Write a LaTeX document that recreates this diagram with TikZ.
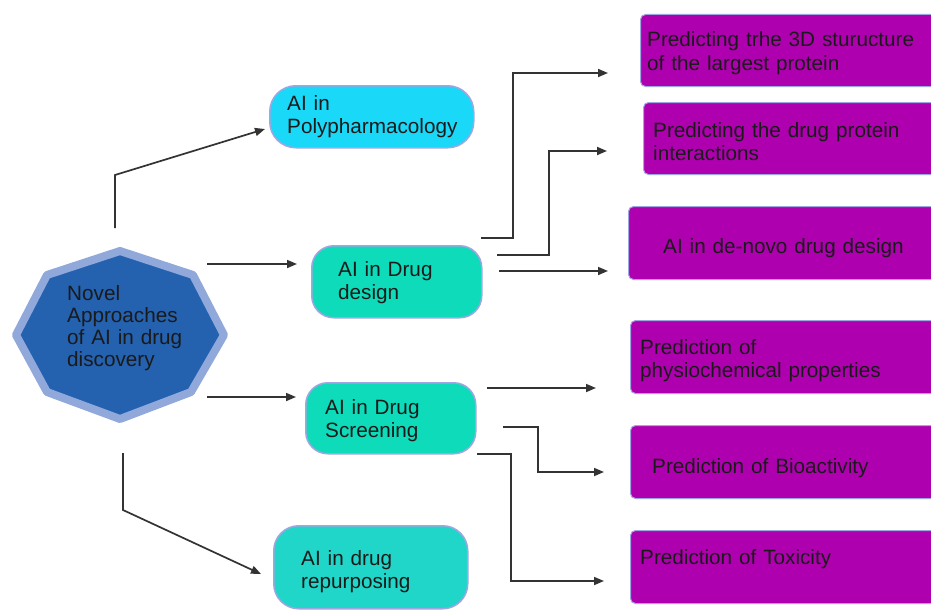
\documentclass[tikz,border=0pt]{standalone}
\usepackage{fontspec}
\setmainfont{Liberation Sans}
\usetikzlibrary{arrows.meta}
\definecolor{hubdark}{HTML}{2461AF}
\definecolor{hublight}{HTML}{90A8DA}
\definecolor{cyanbox}{HTML}{19D8F8}
\definecolor{tealbox}{HTML}{0EDBB9}
\definecolor{tealtwo}{HTML}{20D6C8}
\definecolor{purplebox}{HTML}{AE00AE}
\definecolor{edgeblue}{HTML}{A0A6E2}
\definecolor{linegray}{HTML}{333333}
\definecolor{txt}{HTML}{1A1A1A}
\begin{document}
\begin{tikzpicture}[x=1pt,y=-1pt,
  lbl/.style={font=\fontsize{20.7}{23.5}\selectfont, text=txt, align=left, anchor=base west, inner sep=0pt, text width=#1},
  lbl/.default=300pt,
  rbox/.style={draw=edgeblue, line width=1.5pt, rounded corners=22pt, anchor=north west, inner sep=0pt},
  pbox/.style={draw=edgeblue, fill=purplebox, line width=1pt, rounded corners=5pt, anchor=north west, inner sep=0pt, minimum height=72pt, minimum width=320pt},
  conn/.style={draw=linegray, line width=1.7pt, -{Triangle[length=10pt,width=8pt]}}
]
\useasboundingbox (0,0) rectangle (931,610);

% hub octagon
\draw[draw=hublight, fill=hubdark, line width=8pt, line join=round]
  (120,251) -- (193,275) -- (224,335) -- (191,392) -- (120,419) -- (47,392) -- (16,335) -- (47,275) -- cycle;
\node[lbl=130pt, font=\fontsize{20.7}{22.3}\selectfont] (hub) at (67,300) {Novel\\Approaches\\of AI in drug\\discovery};

% second level boxes
\node[rbox, fill=cyanbox, rounded corners=26pt, minimum width=204pt, minimum height=62pt] (poly) at (269,85) {};
\node[rbox, fill=tealbox, minimum width=170pt, minimum height=72pt] (design) at (311,245) {};
\node[rbox, fill=tealbox, minimum width=170pt, minimum height=71pt] (screen) at (305,382) {};
\node[rbox, fill=tealtwo, rounded corners=25pt, minimum width=194pt, minimum height=83pt] (repur) at (273,525) {};
\node[lbl=180pt] (polyt) at (287,110) {AI in\\Polypharmacology};
\node[lbl=140pt] (designt) at (338,276) {AI in Drug\\design};
\node[lbl=140pt] (screent) at (325,414) {AI in Drug\\Screening};
\node[lbl=150pt] (repurt) at (301,565) {AI in drug\\repurposing};

% third level boxes
\node[pbox] (p1) at (640,14) {};
\node[pbox] (p2) at (643,102) {};
\node[pbox, minimum height=73pt] (p3) at (628,206) {};
\node[pbox, minimum height=73pt] (p4) at (630,320) {};
\node[pbox, minimum height=73pt] (p5) at (630,425) {};
\node[pbox, minimum height=73pt] (p6) at (630,530) {};
\node[lbl] (p1t) at (647,47) {Predicting trhe 3D sturucture\\of the largest protein};
\node[lbl] (p2t) at (653,137) {Predicting the drug protein\\interactions};
\node[lbl] (p3t) at (663,253) {AI in de-novo drug design};
\node[lbl] (p4t) at (640,354) {Prediction of\\physiochemical properties};
\node[lbl] (p5t) at (652,473) {Prediction of Bioactivity};
\node[lbl] (p6t) at (640,564) {Prediction of Toxicity};

% connector coordinates
\coordinate (s1) at (115,228); \coordinate (k1) at (115,175); \coordinate (e1) at (265,129);
\coordinate (s2) at (207,264); \coordinate (e2) at (297,264);
\coordinate (s3) at (207,397); \coordinate (e3) at (296,397);
\coordinate (s4) at (123,453); \coordinate (k4) at (123,510); \coordinate (e4) at (261,574);
\coordinate (s5) at (481,238); \coordinate (k5) at (513,238); \coordinate (e5) at (608,73);
\coordinate (s6) at (497,255); \coordinate (k6) at (549,255); \coordinate (e6) at (607,151);
\coordinate (s7) at (499,271); \coordinate (e7) at (608,271);
\coordinate (s8) at (487,388); \coordinate (e8) at (596,388);
\coordinate (s9) at (503,427); \coordinate (k9) at (538,427); \coordinate (e9) at (604,472);
\coordinate (s10) at (477,454); \coordinate (k10) at (511,454); \coordinate (e10) at (604,581);

\draw[conn] (s1) -- (k1) -- (e1);
\draw[conn] (s2) -- (e2);
\draw[conn] (s3) -- (e3);
\draw[conn] (s4) -- (k4) -- (e4);
\draw[conn] (s5) -- (k5) |- (e5);
\draw[conn] (s6) -- (k6) |- (e6);
\draw[conn] (s7) -- (e7);
\draw[conn] (s8) -- (e8);
\draw[conn] (s9) -- (k9) |- (e9);
\draw[conn] (s10) -- (k10) |- (e10);
\end{tikzpicture}
\end{document}
